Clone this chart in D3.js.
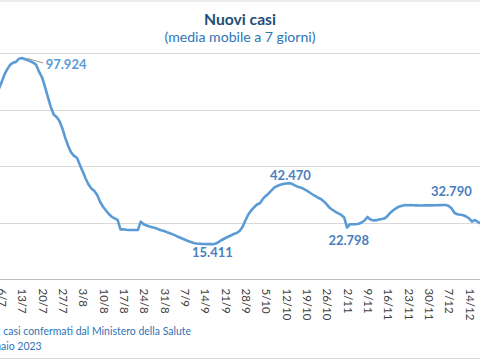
<!DOCTYPE html>
<html>
<head>
<meta charset="utf-8">
<script src="https://cdn.jsdelivr.net/npm/d3@7/dist/d3.min.js"></script>
<style>
  html, body { margin: 0; padding: 0; background: #fff; }
  svg { display: block; font-family: Lato, "Open Sans", sans-serif; }
</style>
</head>
<body>
<svg id="chart" width="480" height="360"></svg>
<script>
// ---- data ----
const startDate = "2022-07-04"; // first daily value
const values = [
  80500, 83800, 86900, 90400, 92870, 94870, 95840, 96200, 97530, 97924,
  97500, 97000, 96400, 95800, 94870, 91760, 89330, 85250, 80680, 76250,
  72920, 71810, 70040, 66720, 62500, 58960, 56080, 54530, 53730, 50620,
  47650, 44550, 41890, 40120, 39010, 37240, 34130, 32010, 30370, 28810,
  27570, 26820, 26160, 21940, 22030, 21810, 21720, 21720, 21720, 21760,
  25400, 24250, 23720, 23270, 22920, 22610, 22080, 21630, 21280, 20750,
  20300, 19770, 19200, 18620, 18040, 17510, 16980, 16490, 16050, 15740,
  15650, 15560, 15500, 15460, 15430, 15411, 15800, 16600, 17400, 18060,
  18720, 19300, 19950, 20390, 21280, 23050, 25930, 28590, 30370, 31780,
  33030, 33560, 35460, 36790, 37900, 39230, 40560, 41230, 41760, 42100,
  42330, 42470, 42200, 41500, 40900, 40560, 39900, 39230, 38430, 37550,
  36790, 36000, 35460, 34360, 33030, 31560, 30590, 29790, 29040, 28370,
  27260, 22798, 24290, 24290, 24250, 24470, 25050, 25930, 27480, 26400,
  25890, 26070, 26380, 26600, 26910, 28060, 29480, 30590, 31470, 32140,
  32450, 32760, 32700, 32720, 32700, 32620, 32540, 32580, 32620, 32640,
  32640, 32660, 32700, 32740, 32760, 32790, 32360, 31250, 29260, 28680,
  28460, 28240, 27700, 26820, 25400, 26150, 25270, 24600, 24300
];
const tickLabels = ["6/7","13/7","20/7","27/7","3/8","10/8","17/8","24/8","31/8","7/9",
  "14/9","21/9","28/9","5/10","12/10","19/10","26/10","2/11","9/11","16/11","23/11",
  "30/11","7/12","14/12"];
const labeledValues = [97924, 42470, 15411, 22798, 32790];
const gridValues = [0, 25000, 50000, 75000, 100000];
const titleText = "Nuovi casi";
const subtitleText = "(media mobile a 7 giorni)";
const sourcePrefixes = ["Fonte: ", "Dati aggiornati al 2 genn"];
const sourceLines = ["Fonte: casi confermati dal Ministero della Salute", "Dati aggiornati al 2 gennaio 2023"];

// ---- build ----
const parse = d3.utcParse("%Y-%m-%d");
const t0 = parse(startDate);
const series = values.map((v, i) => ({ date: d3.utcDay.offset(t0, i), value: v }));
const tickDates = tickLabels.map(s => {
  const [d, m] = s.split("/").map(Number);
  return new Date(Date.UTC(2022, m - 1, d));
});

const svg = d3.select("#chart");

const x = d3.scaleUtc()
  .domain([tickDates[1], tickDates[tickDates.length - 1]])
  .range([21.7, 469.1]);
const y = d3.scaleLinear().domain([0, 100000]).range([279, 53.3]);

// fit a text's font size to a target width
function fitWidth(sel, target) {
  const w = sel.node().getComputedTextLength();
  const fs = parseFloat(sel.style("font-size"));
  sel.style("font-size", (fs * target / w).toFixed(2) + "px");
}

// frame lines
svg.append("line").attr("x1", 0).attr("x2", 480).attr("y1", 1).attr("y2", 1)
  .attr("stroke", "#d9d9d9").attr("stroke-width", 1);
svg.append("line").attr("x1", 0).attr("x2", 480).attr("y1", 358.5).attr("y2", 358.5)
  .attr("stroke", "#d9d9d9").attr("stroke-width", 1);

// gridlines
svg.append("g").selectAll("line").data(gridValues.filter(v => v > 0)).join("line")
  .attr("x1", 0).attr("x2", 480)
  .attr("y1", d => Math.round(y(d)) + 0.5).attr("y2", d => Math.round(y(d)) + 0.5)
  .attr("stroke", "#d9d9d9").attr("stroke-width", 1);

// x axis
const xAxis = d3.axisBottom(x)
  .tickValues(tickDates)
  .tickFormat((d, i) => tickLabels[i])
  .tickSize(0);
const gx = svg.append("g").attr("transform", `translate(0,${Math.round(y(0)) + 0.5})`).call(xAxis);
gx.select(".domain").attr("d", "M0,0H480").attr("stroke", "#bfbfbf");
gx.selectAll("text")
  .attr("transform", "rotate(90)")
  .attr("x", 9).attr("y", 0).attr("dy", "0.35em")
  .attr("text-anchor", "start")
  .attr("fill", "#404040")
  .style("font-size", "11.5px")
  .style("font-family", "Lato, sans-serif");

// line
const line = d3.line().x(d => x(d.date)).y(d => y(d.value));
svg.append("path").datum(series)
  .attr("d", line)
  .attr("fill", "none")
  .attr("stroke", "#5b9bd5")
  .attr("stroke-width", 2.6)
  .attr("stroke-linejoin", "round")
  .attr("stroke-linecap", "round");

// data labels
const it = d3.formatLocale({ decimal: ",", thousands: ".", grouping: [3], currency: ["€", ""] });
const fmt = it.format(",d");
const labelPlacement = {
  97924: { dx: 24, dy: 11, anchor: "start", color: "#5b9bd5", leader: true },
  42470: { dx: 1.5, dy: -3.5, anchor: "middle", color: "#4a7ebf" },
  15411: { dx: -1, dy: 12.5, anchor: "middle", color: "#4a7ebf" },
  22798: { dx: 1.7, dy: 17.5, anchor: "middle", color: "#4a7ebf" },
  32790: { dx: 5.5, dy: -8.5, anchor: "middle", color: "#4a7ebf" }
};
labeledValues.forEach(v => {
  const pt = series.find(d => d.value === v);
  const px = x(pt.date), py = y(pt.value);
  const p = labelPlacement[v];
  if (p.leader) {
    svg.append("line")
      .attr("x1", px + 6).attr("y1", py + 0.5)
      .attr("x2", px + 21.5).attr("y2", py + 5)
      .attr("stroke", "#7f7f7f").attr("stroke-width", 0.8);
  }
  svg.append("text")
    .attr("x", px + p.dx).attr("y", py + p.dy)
    .attr("text-anchor", p.anchor)
    .attr("fill", p.color)
    .style("font-size", "13px").style("font-weight", "700")
    .text(fmt(v));
});

// titles
const title = svg.append("text").attr("x", 240).attr("y", 25).attr("text-anchor", "middle")
  .attr("fill", "#1f4e79").style("font-size", "16px").style("font-weight", "700")
  .text(titleText);
fitWidth(title, 72);
const sub = svg.append("text").attr("x", 240).attr("y", 42).attr("text-anchor", "middle")
  .attr("fill", "#2e75b6").style("font-size", "14px")
  .text(subtitleText);
fitWidth(sub, 151);

// source text (left part cropped as in the reference)
const src1 = svg.append("text").attr("y", 335)
  .attr("fill", "#2e75b6").style("font-size", "11px").text(sourceLines[0]);
// fit "casi ... Salute" to 188px
{
  const n = src1.node();
  const pre = n.getSubStringLength(0, sourcePrefixes[0].length);
  const full = n.getComputedTextLength();
  const fs = 11 * 188 / (full - pre);
  src1.style("font-size", fs.toFixed(2) + "px");
  const pre2 = n.getSubStringLength(0, sourcePrefixes[0].length);
  src1.attr("x", 3.3 - pre2);
}
const src2 = svg.append("text").attr("y", 350)
  .attr("fill", "#2e75b6").style("font-size", src1.style("font-size")).text(sourceLines[1]);
{
  const n = src2.node();
  const pre = n.getSubStringLength(0, sourcePrefixes[1].length);
  src2.attr("x", 1 - pre);
}
</script>
</body>
</html>
